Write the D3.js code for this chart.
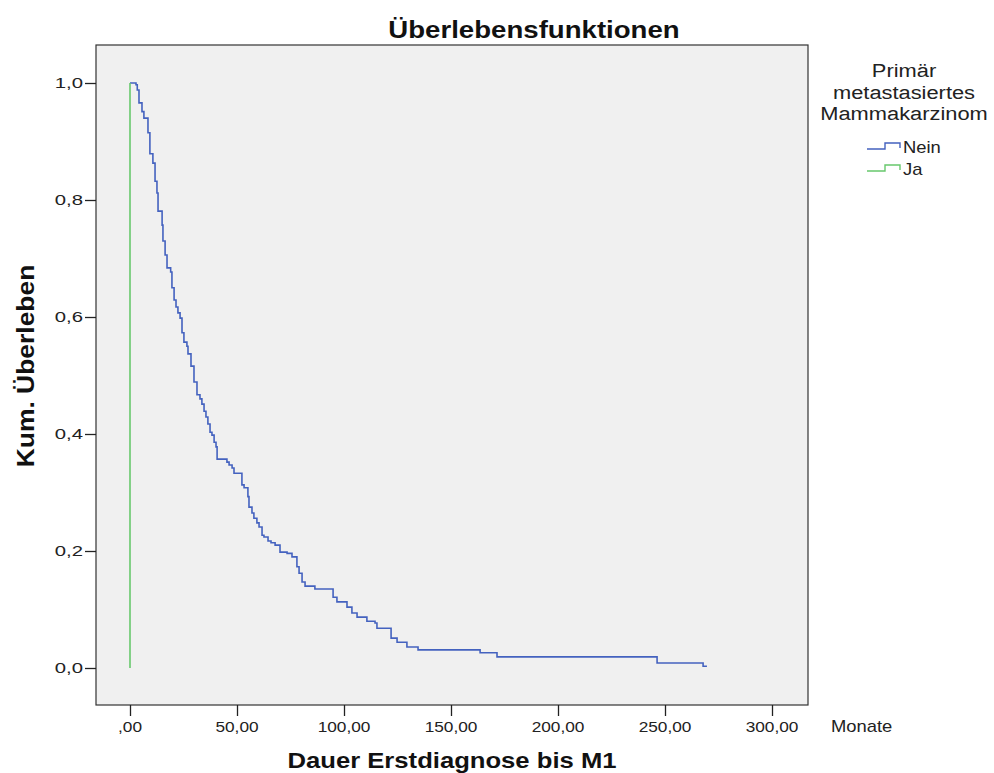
<!DOCTYPE html>
<html><head><meta charset="utf-8">
<script src="https://cdn.jsdelivr.net/npm/d3@7"></script>
<style>body{margin:0;background:#fff}svg{display:block}text{font-family:"Liberation Sans",Arial,sans-serif}</style>
</head><body>
<svg id="c" width="994" height="773"></svg>
<script>
// Kaplan-Meier steps: time (months) at which survival drops, survival after drop
const neinTimes = [0,2.8,3.4,4.2,5.6,6.5,8.4,9.3,10.7,11.7,12.6,13.1,15.0,15.4,16.4,17.3,19.0,19.6,20.6,21.5,22.4,23.4,24.3,25.2,26.6,27.1,28.5,29.9,31.3,32.7,33.6,34.6,35.5,36.4,37.4,38.3,39.3,40.2,40.7,45.3,46.3,47.7,48.6,52.3,53.3,55.1,55.6,57.0,57.9,59.3,60.3,61.7,62.6,64.5,65.9,67.8,70.1,73.4,75.7,78.0,79.0,80.4,81.8,86.4,94.9,96.7,101.4,103.7,106.1,110.7,114.5,115.4,122.0,124.8,129.4,134.6,163.6,171.5,246.3,267.8];
const neinSurv = [1,0.997,0.988,0.966,0.951,0.94,0.915,0.879,0.863,0.832,0.812,0.781,0.757,0.730,0.706,0.684,0.677,0.65,0.629,0.617,0.607,0.598,0.573,0.557,0.55,0.537,0.516,0.489,0.467,0.46,0.451,0.439,0.429,0.417,0.403,0.398,0.386,0.378,0.357,0.352,0.347,0.342,0.333,0.313,0.308,0.293,0.275,0.265,0.256,0.248,0.241,0.227,0.224,0.217,0.214,0.21,0.198,0.196,0.19,0.173,0.162,0.147,0.14,0.135,0.121,0.113,0.104,0.094,0.087,0.08,0.077,0.068,0.051,0.044,0.036,0.031,0.026,0.019,0.0085,0.003];
const neinEnd = 269.6;
const jaTimes = [0,0];
const jaSurv = [1,0];
const xTicks = [0,50,100,150,200,250,300];
const xTickLabels = [",00","50,00","100,00","150,00","200,00","250,00","300,00"];
const yTicks = [0,0.2,0.4,0.6,0.8,1.0];
const yTickLabels = ["0,0","0,2","0,4","0,6","0,8","1,0"];
const groups = ["Nein","Ja"];
const colors = ["#4462bf","#67c86c"];

const SX = 1.15; // horizontal stretch of the reference's text
const svg = d3.select("#c");
const L=96,R=808,T=45,B=705;
const x = d3.scaleLinear().domain([0,300]).range([130,772]);
const y = d3.scaleLinear().domain([0,1]).range([668,83]);

function txt(px,py,s,size,opts={}){
  const rot = opts.rot||0;
  const sx = opts.sx||SX;
  return svg.append("text")
    .attr("transform",`translate(${px},${py}) rotate(${rot}) scale(${sx},1)`)
    .attr("text-anchor",opts.anchor||"start")
    .attr("font-size",size).attr("font-weight",opts.bold?"bold":"normal")
    .attr("fill",opts.fill||"#222").text(s);
}

svg.append("rect").attr("x",L).attr("y",T).attr("width",R-L).attr("height",B-T)
  .attr("fill","#f0f0f0").attr("stroke","#333").attr("stroke-width",1.2);

// axes
const xa = svg.append("g").attr("transform",`translate(0,${B})`)
  .call(d3.axisBottom(x).tickValues(xTicks).tickSize(11).tickFormat(""));
const ya = svg.append("g").attr("transform",`translate(${L},0)`)
  .call(d3.axisLeft(y).tickValues(yTicks).tickSize(11).tickFormat(""));
[xa,ya].forEach(g=>{g.select(".domain").remove();
  g.selectAll("line").attr("stroke","#222").attr("stroke-width",1.3);});
xTicks.forEach((v,i)=>txt(x(v),732,xTickLabels[i],15,{anchor:"middle"}));
yTicks.forEach((v,i)=>txt(L-13,y(v)+5,yTickLabels[i],14.5,{anchor:"end",sx:1.4}));

// curves
const neinPts = neinTimes.map((t,i)=>[t,neinSurv[i]]).concat([[neinEnd,neinSurv[neinSurv.length-1]]]);
const line = d3.line().x(d=>x(d[0])).y(d=>y(d[1])).curve(d3.curveStepAfter);
svg.append("path").datum(neinPts).attr("d",line).attr("fill","none")
  .attr("stroke",colors[0]).attr("stroke-width",1.6);
const jaPts = jaTimes.map((t,i)=>[t,jaSurv[i]]);
svg.append("path").datum(jaPts).attr("d",d3.line().x(d=>x(d[0])).y(d=>y(d[1])))
  .attr("fill","none").attr("stroke",colors[1]).attr("stroke-width",1.6);

// titles
txt(534,38,"Überlebensfunktionen",24,{anchor:"middle",bold:true,fill:"#111"});
txt(452,768,"Dauer Erstdiagnose bis M1",22.3,{anchor:"middle",bold:true,fill:"#111"});
txt(34,366,"Kum. Überleben",23,{anchor:"middle",bold:true,fill:"#111",rot:-90});
txt(831,732,"Monate",16);

// legend
const lt = ["Primär","metastasiertes","Mammakarzinom"];
lt.forEach((s,i)=>txt(904,77+i*21.5,s,19,{anchor:"middle"}));
groups.forEach((g,i)=>{
  const yy = 149+i*22;
  svg.append("path").attr("d",`M867,${yy}H885V${yy-6}H900V${yy-1}`).attr("fill","none")
    .attr("stroke",colors[i]).attr("stroke-width",1.4);
  txt(903,yy+4,g,16);
});
</script>
</body></html>
